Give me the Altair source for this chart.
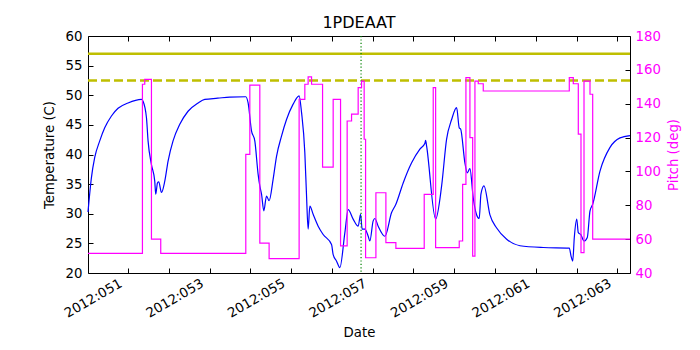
import altair as alt
import pandas as pd

# ---- data ----
temp_day = [50.018, 50.102, 50.183, 50.306, 50.428, 50.593, 50.755, 51.0, 51.329, 51.368,
            51.452, 51.491, 51.574, 51.655, 51.680, 51.721, 51.753, 51.820, 51.901, 51.982,
            52.104, 52.269, 52.472, 52.718, 52.882, 53.2, 53.496, 53.888, 53.945, 54.028,
            54.109, 54.190, 54.232, 54.274, 54.330, 54.396, 54.460, 54.558, 54.642, 54.764,
            54.887, 55.049, 55.196, 55.255, 55.336, 55.378, 55.417, 55.459, 55.540, 55.663,
            55.785, 55.991, 56.031, 56.114, 56.195, 56.318, 56.399, 56.521, 56.644, 56.703,
            56.742, 56.808, 56.890, 56.931, 57.012, 57.055, 57.135, 57.299, 57.464, 57.569,
            57.748, 57.955, 58.158, 58.281, 58.298, 58.323, 58.544, 58.691, 58.813, 58.936,
            59.059, 59.123, 59.157, 59.262, 59.319, 59.385, 59.466, 59.550, 59.613, 59.655,
            59.729, 59.876, 60.041, 60.286, 60.612, 61.184, 61.822, 61.864, 61.906, 61.945,
            62.004, 62.043, 62.102, 62.183, 62.264, 62.330, 62.396, 62.575, 62.821, 63.066,
            63.311]
temp_val = [30.3, 36.1, 39.5, 42.3, 44.5, 46.5, 47.8, 48.7, 49.3, 49.0,
            46.2, 42.3, 38.3, 35.5, 33.3, 35.2, 35.4, 33.6, 35.5, 38.9,
            42.3, 45.1, 47.3, 48.7, 49.3, 49.5, 49.7, 49.75, 48.7, 44.0,
            42.3, 36.7, 34.7, 33.3, 30.5, 33.0, 32.2, 35.8, 39.7, 43.1,
            45.9, 48.5, 49.9, 47.1, 40.3, 33.0, 27.4, 31.3, 29.9, 27.9,
            26.5, 24.8, 23.1, 22.0, 20.9, 26.8, 30.7, 29.1, 27.9, 29.9,
            27.4, 27.4, 26.2, 25.4, 28.8, 29.2, 27.9, 26.2, 30.2, 31.6,
            35.2, 38.6, 40.9, 41.9, 42.4, 41.4, 29.1, 34.7, 42.6, 45.9,
            47.9, 44.5, 44.3, 38.6, 36.9, 37.6, 32.7, 29.8, 29.2, 33.3,
            34.7, 29.8, 27.6, 25.7, 24.6, 24.3, 24.2, 22.9, 22.0, 26.0,
            29.1, 26.8, 26.5, 25.4, 26.0, 30.5, 31.6, 37.2, 41.2, 42.8,
            43.2]

pitch_day = [50.018, 51.353, 51.410, 51.574, 51.802, 53.888, 53.987, 54.232, 54.460, 55.196,
             55.336, 55.417, 55.501, 55.771, 56.031, 56.212, 56.374, 56.482, 56.644, 56.728,
             56.791, 56.826, 57.079, 57.324, 57.569, 58.264, 58.485, 58.544, 59.123, 59.206,
             59.287, 59.385, 59.452, 59.508, 59.589, 59.712, 61.822, 61.920, 62.043, 62.109,
             62.183, 62.330, 62.396, 63.311]
pitch_val = [51.6, 151.5, 154.4, 60.0, 51.6, 110.1, 151.0, 57.6, 48.5, 142.6,
             151.5, 155.8, 151.5, 102.6, 142.6, 56.0, 129.8, 133.8, 149.5, 153.4,
             119.0, 49.0, 87.4, 57.9, 54.6, 86.5, 149.5, 55.0, 58.9, 92.4,
             155.4, 120.0, 50.0, 153.4, 151.8, 147.5, 155.4, 151.8, 122.0, 52.0,
             153.4, 145.6, 60.0, 60.0]

limit_solid = [57.0]
limit_dashed = [52.5]
marker_day = [56.715]

x_domain = [50.018, 63.311]
x_ticks = list(range(51, 64))
temp_ticks = list(range(20, 61, 5))
pitch_ticks = list(range(40, 181, 20))

FONT = "DejaVu Sans"
MAGENTA = "#ff00ff"
OLIVE = "#bfbf00"

temp_df = pd.DataFrame({"day": temp_day, "temp": temp_val})
pitch_df = pd.DataFrame({"day": pitch_day, "pitch": pitch_val})
solid_df = pd.DataFrame({"temp": limit_solid})
dashed_df = pd.DataFrame({"temp": limit_dashed})
marker_df = pd.DataFrame({"day": marker_day})

xscale = alt.Scale(domain=x_domain, nice=False, zero=False)
tscale = alt.Scale(domain=[20, 60], nice=False, zero=False)
pscale = alt.Scale(domain=[40, 180], nice=False, zero=False)

x_bottom = alt.Axis(
    orient="bottom", values=x_ticks, title="Date",
    labelExpr="datum.value % 2 == 1 ? '2012:' + format(datum.value, '03d') : ''",
    labelAngle=330, labelAlign="right", labelBaseline="top",
    labelOverlap=False, labelFlush=False,
    offset=-5, tickSize=5, domain=False, grid=False,
    labelPadding=3, labelOffset=-11, titlePadding=6,
)
x_top = alt.Axis(
    orient="top", values=x_ticks, labels=False, title=None,
    offset=-5, tickSize=5, domain=False, grid=False,
)
y_left = alt.Axis(
    orient="left", values=temp_ticks, title="Temperature (C)",
    offset=-5, tickSize=5, domain=False, grid=False,
    labelPadding=6, titlePadding=9,
)
y_right = alt.Axis(
    orient="right", values=pitch_ticks, title="Pitch (deg)",
    offset=-5, tickSize=5, domain=False, grid=False,
    labelPadding=5, titlePadding=6, labelColor=MAGENTA, titleColor=MAGENTA,
    titleAngle=270, titleBaseline="top",
)

temp_line = alt.Chart(temp_df).mark_line(
    color="#0000ff", strokeWidth=1.2, interpolate="monotone"
).encode(
    x=alt.X("day:Q", scale=xscale, axis=x_bottom),
    y=alt.Y("temp:Q", scale=tscale, axis=y_left),
)
solid_rule = alt.Chart(solid_df).mark_rule(color=OLIVE, strokeWidth=2.5).encode(
    y=alt.Y("temp:Q", scale=tscale, axis=y_left),
)
dashed_rule = alt.Chart(dashed_df).mark_rule(
    color=OLIVE, strokeWidth=2.5, strokeDash=[9, 4]
).encode(
    y=alt.Y("temp:Q", scale=tscale, axis=y_left),
)
marker_rule = alt.Chart(marker_df).mark_rule(
    color="#008000", strokeWidth=1.2, strokeDash=[1.2, 2.2]
).encode(
    x=alt.X("day:Q", scale=xscale, axis=x_bottom),
)

inner = alt.layer(temp_line, solid_rule, dashed_rule, marker_rule)

pitch_line = alt.Chart(pitch_df).mark_line(
    color=MAGENTA, strokeWidth=1.2, interpolate="step-after"
).encode(
    x=alt.X("day:Q", scale=xscale, axis=x_top),
    y=alt.Y("pitch:Q", scale=pscale, axis=y_right),
)

chart = alt.layer(inner, pitch_line).resolve_scale(
    x="independent", y="independent"
).properties(
    width=542, height=237,
    title=alt.TitleParams("1PDEAAT", font=FONT, fontSize=16, fontWeight="normal",
                          anchor="middle", offset=-2, color="black"),
    padding={"left": 34, "top": 7, "right": 5, "bottom": 5},
).configure_view(
    stroke="black", strokeWidth=1,
).configure_axis(
    labelFont=FONT, titleFont=FONT, labelFontSize=13.3, titleFontSize=13.3,
    titleFontWeight="normal", labelColor="black", titleColor="black",
    tickColor="black", tickWidth=1,
)

chart.save("out.html", embed_options={"renderer": "svg", "actions": False})
